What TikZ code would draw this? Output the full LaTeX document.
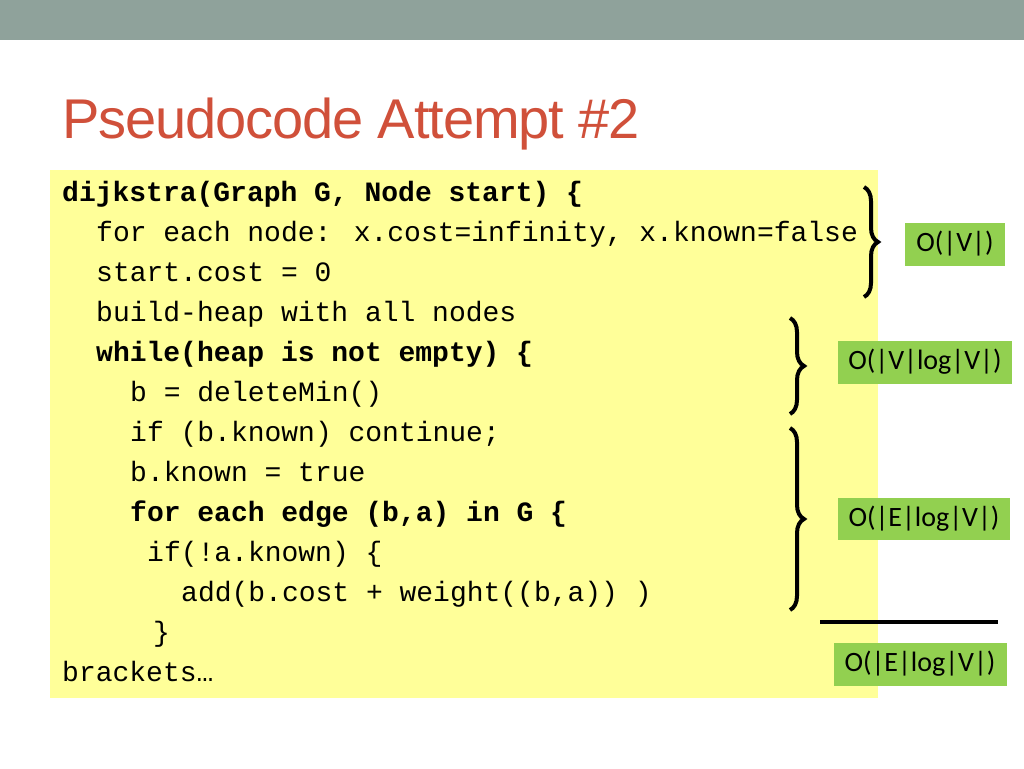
\documentclass[tikz,border=0pt]{standalone}
\usepackage{fontspec}
\setmainfont{Liberation Sans}
\newfontfamily\codefont{Liberation Mono}
\newfontfamily\boxfont{Carlito}
\usetikzlibrary{decorations.pathreplacing}
\definecolor{barc}{HTML}{8FA29B}
\definecolor{titlec}{HTML}{D0503A}
\definecolor{codebg}{HTML}{FFFF99}
\definecolor{greenc}{HTML}{92D050}
\tikzset{
 code/.style={anchor=base west,inner sep=0pt,font=\codefont\fontsize{28}{28}\selectfont},
 bcode/.style={code,font=\codefont\bfseries\fontsize{28}{28}\selectfont},
 cbox/.style={fill=greenc,inner sep=0pt,font=\boxfont\fontsize{28}{28}\selectfont},
 brc/.style={decorate,decoration={brace,amplitude=14pt},line width=4pt}
}
\begin{document}
\begin{tikzpicture}[x=1pt,y=-1pt]
\useasboundingbox (0,0) rectangle (1024,768);
\fill[white] (0,0) rectangle (1024,768);
\fill[barc] (0,0) rectangle (1024,40);
\node[anchor=base west,inner sep=0pt,text=titlec,font=\fontsize{56}{56}\selectfont] (title) at (62,138) {\addfontfeature{LetterSpace=-2}Pseudocode Attempt \#2};
\fill[codebg] (50,170) rectangle (878,698);
\node[bcode] (l1) at (62,201) {dijkstra(Graph G, Node start) \{};
\node[code] (l2) at (96,241) {for each node: x.cost=infinity, x.known=false};
\node[code] (l3) at (96,281) {start.cost = 0};
\node[code] (l4) at (96,321) {build-heap with all nodes};
\node[bcode] (l5) at (96,361) {while(heap is not empty) \{};
\node[code] (l6) at (130,401) {b = deleteMin()};
\node[code] (l7) at (130,441) {if (b.known) continue;};
\node[code] (l8) at (130,481) {b.known = true};
\node[bcode] (l9) at (130,521) {for each edge (b,a) in G \{};
\node[code] (l10) at (147,561) {if(!a.known) \{};
\node[code] (l11) at (181,601) {add(b.cost + weight((b,a)) )};
\node[code] (l12) at (153,641) {\}};
\node[code] (l13) at (62,681) {brackets…};
\node[cbox,minimum width=100,minimum height=43] (b1) at (955,244) {O(|V|)};
\node[cbox,minimum width=174,minimum height=43] (b2) at (925,362) {O(|V|log|V|)};
\node[cbox,minimum width=172,minimum height=42] (b3) at (924,519) {O(|E|log|V|)};
\node[cbox,minimum width=173,minimum height=43] (b4) at (920,664) {O(|E|log|V|)};
\coordinate (t1) at (864,187); \coordinate (u1) at (864,297);
\coordinate (t2) at (790,318); \coordinate (u2) at (790,414);
\coordinate (t3) at (790,428); \coordinate (u3) at (790,610);
\draw[brc] (t1) -- (u1);
\draw[brc] (t2) -- (u2);
\draw[brc] (t3) -- (u3);
\coordinate (h1) at (820,622); \coordinate (h2) at (998,622);
\draw[line width=4pt] (h1) -- (h2);
\end{tikzpicture}
\end{document}
